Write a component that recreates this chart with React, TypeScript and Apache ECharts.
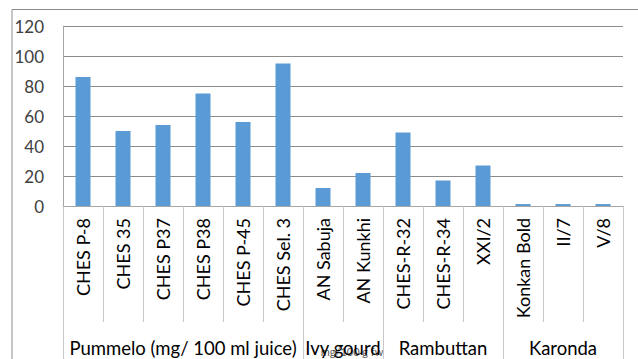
import React, { useEffect, useRef } from "react";
import * as echarts from "echarts";

const categories = [
  "CHES P-8", "CHES 35", "CHES P37", "CHES P38", "CHES P-45", "CHES Sel. 3",
  "AN Sabuja", "AN Kunkhi",
  "CHES-R-32", "CHES-R-34", "XXI/2",
  "Konkan Bold", "II/7", "V/8",
];
const values = [86, 50, 54, 75, 56, 95, 12, 22, 49, 17, 27, 1.3, 1.3, 1.3];
const groupNames = ["Pummelo (mg/ 100 ml juice)", "Ivy gourd", "Rambuttan", "Karonda"];
const groupSizes = [6, 2, 3, 3];
const yTicks = [0, 20, 40, 60, 80, 100, 120];

const FONT = "Lato";
const TEXT = "#404040";

export default function App() {
  const ref = useRef<HTMLDivElement>(null);
  useEffect(() => {
    const chart = echarts.init(ref.current!, null, { renderer: "svg" });
    const bounds: number[] = [0];
    groupSizes.forEach((s) => bounds.push(bounds[bounds.length - 1] + s));
    const centers = groupSizes.map((s, i) => bounds[i] + s / 2);
    chart.setOption({
      animation: false,
      backgroundColor: "#ffffff",
      grid: { left: 63, right: 15, top: 26, bottom: 153, containLabel: false },
      xAxis: [
        {
          type: "category",
          data: categories,
          axisLine: { show: true, lineStyle: { color: "#a6a6a6", width: 1 } },
          axisTick: { show: true, interval: 0, length: 116, lineStyle: { color: "#c8c8c8" } },
          axisLabel: {
            interval: 0,
            rotate: 90,
            margin: 12,
            fontFamily: FONT,
            fontSize: 18,
            color: "#000000",
          },
        },
        {
          type: "value",
          min: 0,
          max: bounds[bounds.length - 1],
          position: "bottom",
          axisLine: { show: false },
          splitLine: { show: false },
          axisTick: {
            show: true,
            customValues: bounds,
            length: 153,
            lineStyle: { color: "#c8c8c8" },
          },
          axisLabel: {
            customValues: centers,
            formatter: (v: number) => {
              const i = centers.findIndex((c) => Math.abs(c - v) < 1e-6);
              return i >= 0 ? groupNames[i] : "";
            },
            margin: 132,
            fontFamily: FONT,
            fontSize: 18.5,
            color: "#000000",
          },
        },
      ],
      yAxis: {
        type: "value",
        min: 0,
        max: 120,
        interval: 20,
        axisLine: { show: true, lineStyle: { color: "#a6a6a6" } },
        axisTick: { show: false },
        splitLine: { show: true, lineStyle: { color: "#8c8c8c" } },
        axisLabel: {
          margin: 19,
          fontFamily: FONT,
          fontSize: 17,
          color: TEXT,
          formatter: (v: number) => (yTicks.includes(v) ? String(v) : ""),
        },
      },
      series: [
        {
          type: "bar",
          data: values,
          barWidth: 15,
          xAxisIndex: 0,
          itemStyle: { color: "#5b9bd5" },
        },
      ],
      graphic: [
        {
          type: "polyline",
          shape: { points: [[12, 359], [12, 9.5], [638, 9.5]] },
          style: { stroke: "#8c8c8c", lineWidth: 1, fill: "none" },
        },
        {
          type: "text",
          x: 352,
          y: 351,
          style: {
            text: "mg/100 g fw",
            font: `11px ${FONT}`,
            fill: "#595959",
            align: "center",
            verticalAlign: "middle",
          },
        },
      ],
    });
    return () => chart.dispose();
  }, []);
  return <div ref={ref} style={{ width: 638, height: 359, position: "fixed", left: 0, top: 0 }} />;
}
